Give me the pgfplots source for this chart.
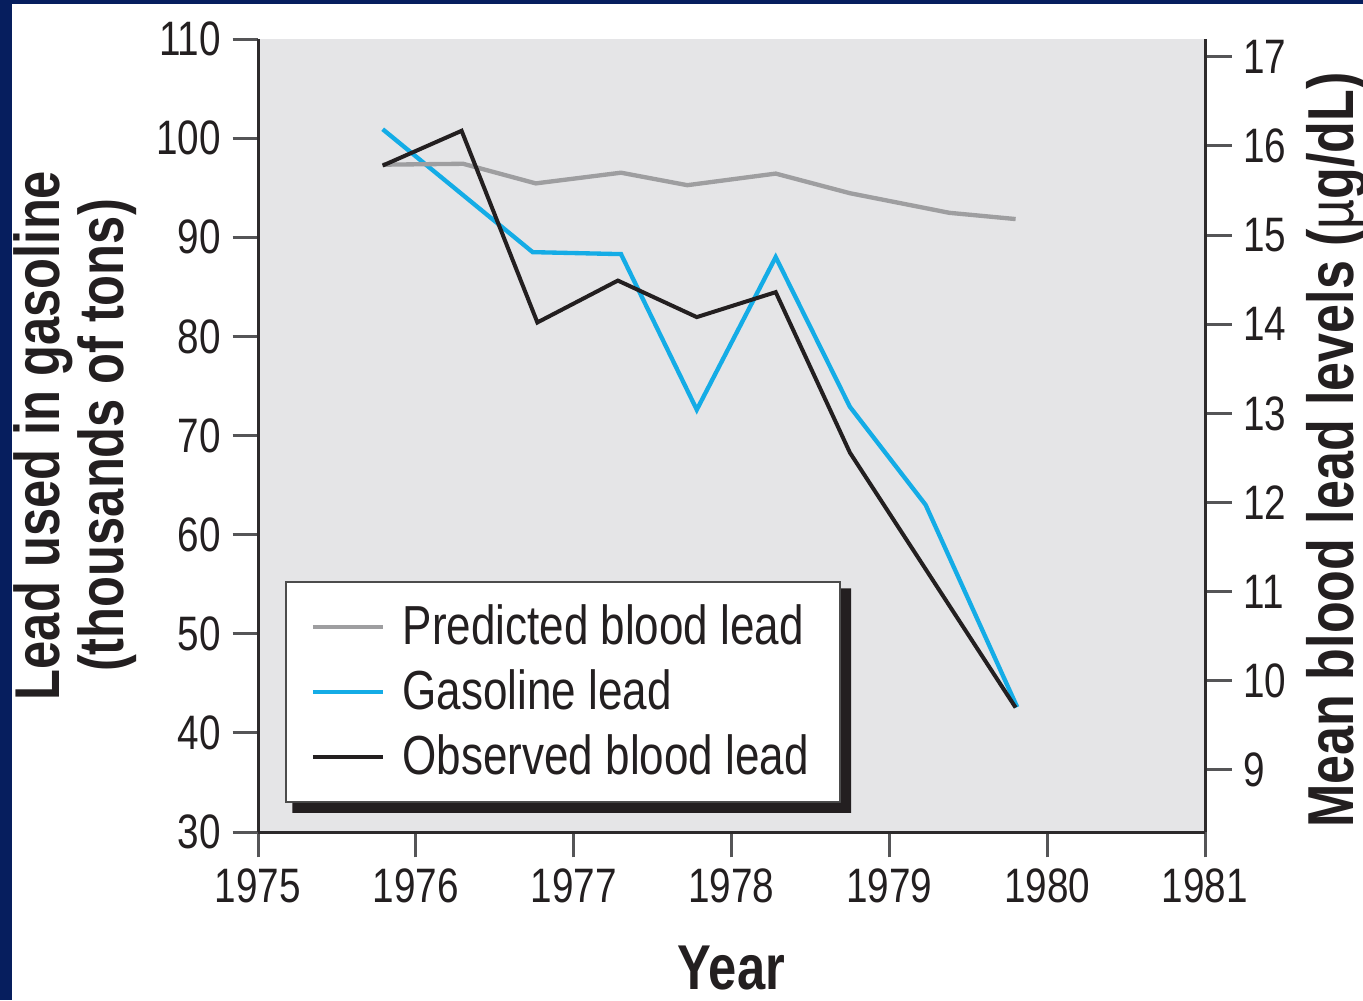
\documentclass[border=0pt]{standalone}
\usepackage{fontspec}
\setmainfont{Liberation Sans}[FakeStretch=0.8]
\usepackage{pgfplots}
\pgfplotsset{compat=1.18}
\definecolor{navyc}{RGB}{6,30,94}
\definecolor{bggray}{RGB}{229,229,231}
\definecolor{bluec}{RGB}{20,172,230}
\definecolor{grayc}{RGB}{158,158,160}
\definecolor{blackc}{RGB}{35,31,32}
\definecolor{axisc}{RGB}{45,42,43}
\definecolor{tickc}{RGB}{85,85,87}
\definecolor{textc}{RGB}{35,31,32}
\begin{document}
\begin{tikzpicture}
\fill[navyc] (0,0) rectangle (408.9pt,300pt);
\fill[white] (3.6pt,0) rectangle (408.9pt,298.8pt);
\begin{axis}[
  at={(77.4pt,50.4pt)}, anchor=south west,
  scale only axis, width=284.1pt, height=237.9pt,
  xmin=1975, xmax=1981, ymin=30, ymax=110,
  axis x line*=bottom, axis y line*=left,
  axis line style={draw=axisc, line width=0.9pt, -},
  axis background/.style={fill=bggray},
  xtick={1975,1976,...,1981}, ytick={30,40,...,110},
  tick align=outside, major tick length=7.6pt,
  tick style={draw=tickc, line width=0.9pt},
  tick label style={font=\fontsize{14.5}{17}\selectfont, text=textc},
  /pgf/number format/assume math mode=true,
  /pgf/number format/1000 sep={},
  xlabel={Year}, ylabel={Lead used in gasoline\\(thousands of tons)},
  every axis x label/.style={at={(axis description cs:0.5,-0.1425)}, anchor=north, inner sep=0pt, font=\fontsize{19}{22}\selectfont\bfseries, text=textc},
  every axis y label/.style={at={(axis description cs:-0.1278,0.5)}, rotate=90, anchor=south, inner sep=0pt, align=center, font=\fontsize{19}{19}\selectfont\bfseries, text=textc},
  legend image code/.code={\draw[#1] (0pt,0pt) -- (21pt,0pt);},
  legend cell align=left,
  legend style={name=leg, at={(0.0285,0.3165)}, anchor=north west, draw=gray!60!black, line width=0.6pt, fill=white,
    font=\fontsize{16.5}{19}\selectfont, text=textc, inner xsep=7.4pt, inner ysep=4.8pt, row sep=2pt,
    /tikz/every odd column/.append style={column sep=3.3pt}},
]
\addlegendimage{grayc, line width=1.3pt}
\addlegendentry{Predicted blood lead}
\addplot[bluec, line width=1.3pt] coordinates {
(1975.79,100.9) (1976.74,88.5) (1977.30,88.3) (1977.78,72.6)
(1978.28,88.0) (1978.75,72.9) (1979.23,63.0) (1979.81,42.6)};
\addlegendentry{Gasoline lead}
\addlegendimage{blackc, line width=1.3pt}
\addlegendentry{Observed blood lead}
\end{axis}
\fill[blackc] ([yshift=-2.2pt]leg.north east) -- ([xshift=3pt,yshift=-2.2pt]leg.north east)
  -- ([xshift=3pt,yshift=-3pt]leg.south east) -- ([xshift=2.2pt,yshift=-3pt]leg.south west)
  -- ([xshift=2.2pt]leg.south west) -- (leg.south east) -- cycle;
\begin{axis}[
  at={(77.4pt,50.4pt)}, anchor=south west,
  scale only axis, width=284.1pt, height=237.9pt,
  xmin=1975, xmax=1981, ymin=8.304, ymax=17.2,
  axis x line=none, axis y line*=right,
  axis line style={draw=axisc, line width=0.9pt, -},
  ytick={9,10,...,17},
  tick align=outside, major tick length=8pt,
  tick style={draw=tickc, line width=0.9pt},
  tick label style={font=\fontsize{14.5}{17}\selectfont, text=textc},
  /pgf/number format/assume math mode=true,
  ylabel={Mean blood lead levels ({\mdseries µ}g/dL)},
  every axis y label/.style={at={(axis description cs:1.1563,0.005)}, rotate=90, anchor=base west, inner sep=0pt, font=\fontsize{19.5}{20}\selectfont\bfseries, text=textc},
]
\addplot[grayc, line width=1.3pt] coordinates {
(1975.79,15.79) (1976.30,15.80) (1976.76,15.58) (1977.30,15.70) (1977.72,15.56)
(1978.28,15.69) (1978.75,15.47) (1979.38,15.25) (1979.80,15.18)};
\addplot[blackc, line width=1.2pt] coordinates {
(1975.79,15.78) (1976.29,16.17) (1976.77,14.02) (1977.28,14.49) (1977.78,14.08)
(1978.28,14.36) (1978.75,12.56) (1979.80,9.70)};
\end{axis}
\pgfresetboundingbox
\useasboundingbox (0,0) rectangle (408.9pt,300pt);
\end{tikzpicture}
\end{document}
